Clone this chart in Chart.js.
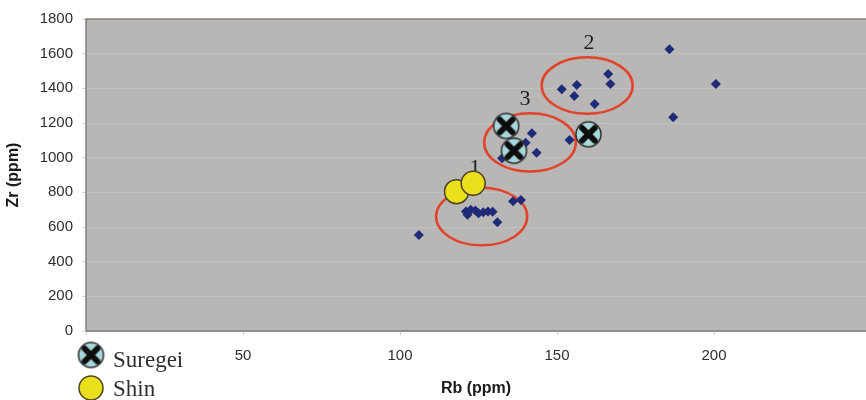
<!DOCTYPE html>
<html>
<head>
<meta charset="utf-8">
<style>
  html, body { margin: 0; padding: 0; background: #fff; overflow: hidden; }
  #wrap { width: 866px; height: 400px; overflow: hidden; }
</style>
<script src="https://cdn.jsdelivr.net/npm/chart.js@4/dist/chart.umd.min.js"></script>
</head>
<body>
<div id="wrap"><canvas id="rbZrChart" width="866" height="400"></canvas></div>
<script>
// samples (Rb, Zr in ppm)
const rbSamples = [106, 121, 121.5, 122.5, 124, 125, 126.5, 128, 129.5, 131, 136, 138.5,
  132.5, 140, 142, 143.5, 154,
  151.5, 155.5, 156.3, 162, 166.3, 167,
  185.8, 187, 200.6];
const zrSamples = [554, 690, 670, 700, 695, 680, 685, 690, 688, 628, 748, 756,
  996, 1086, 1141, 1029, 1102,
  1394, 1356, 1419, 1310, 1483, 1425,
  1625, 1233, 1425];

const rbSuregei = [133.8, 136.3, 160];
const zrSuregei = [1183, 1040, 1135];
const rbShin = [118, 123.3];
const zrShin = [804, 852];

// circled groups: label, centre Rb, centre Zr, half width (Rb), half height (Zr)
const groupLabels = ["1", "2", "3"];
const groupRb = [126, 159.6, 141.4];
const groupZr = [660, 1416, 1088];
const groupHalfRb = [14.5, 14.5, 14.6];
const groupHalfZr = [166, 163, 168];
const groupLabelRb = [123.9, 160.2, 139.8];
const groupLabelZr = [940, 1662, 1338];

const xTicks = [50, 100, 150, 200];

const PAGE_W = 866;
const PAGE_H = 400;

function toPoints(xs, ys) {
  return xs.map((x, i) => ({ x: x, y: ys[i] }));
}

function makeSuregeiIcon(r) {
  const size = r * 2 + 4;
  const c = document.createElement("canvas");
  c.width = size;
  c.height = size;
  const g = c.getContext("2d");
  const m = size / 2;
  g.beginPath();
  g.arc(m, m, r, 0, Math.PI * 2);
  g.fillStyle = "#a8d6da";
  g.fill();
  g.lineWidth = 1.5;
  g.strokeStyle = "#2b2b2b";
  g.stroke();
  g.strokeStyle = "#0d0d0d";
  g.lineWidth = 6;
  g.lineCap = "round";
  const d = r * 0.5;
  g.beginPath();
  g.moveTo(m - d, m - d);
  g.lineTo(m + d, m + d);
  g.moveTo(m + d, m - d);
  g.lineTo(m - d, m + d);
  g.stroke();
  return c;
}

const suregeiIcon = makeSuregeiIcon(12.5);

const plotFrame = {
  id: "plotFrame",
  beforeDraw(chart) {
    const { ctx, chartArea: a } = chart;
    ctx.save();
    ctx.fillStyle = "#b8b7b5";
    ctx.fillRect(a.left, a.top, a.right - a.left, a.bottom - a.top);
    ctx.restore();
  },
  afterDraw(chart) {
    const { ctx, chartArea: a } = chart;
    ctx.save();
    ctx.strokeStyle = "#847d78";
    ctx.lineWidth = 1.5;
    ctx.beginPath();
    ctx.moveTo(a.left, a.bottom);
    ctx.lineTo(a.left, a.top);
    ctx.lineTo(a.right, a.top);
    ctx.moveTo(a.left, a.bottom);
    ctx.lineTo(a.right, a.bottom);
    ctx.stroke();

    // legend at bottom left
    ctx.drawImage(suregeiIcon, 91 - suregeiIcon.width / 2, 355 - suregeiIcon.height / 2);
    ctx.beginPath();
    ctx.arc(91, 388, 12, 0, Math.PI * 2);
    ctx.fillStyle = "#ecdf1c";
    ctx.fill();
    ctx.lineWidth = 1.5;
    ctx.strokeStyle = "#4a4222";
    ctx.stroke();
    ctx.fillStyle = "#2e2e2e";
    ctx.font = "23px 'Liberation Serif', 'DejaVu Serif', serif";
    ctx.textBaseline = "middle";
    ctx.textAlign = "left";
    ctx.fillText("Suregei", 113, 361);
    ctx.fillText("Shin", 113, 390);
    ctx.restore();
  }
};

const groupCircles = {
  id: "groupCircles",
  beforeDatasetsDraw(chart) {
    const { ctx, scales: { x, y } } = chart;
    ctx.save();
    ctx.strokeStyle = "#e2432b";
    ctx.lineWidth = 2.5;
    groupRb.forEach((rb, i) => {
      const cx = x.getPixelForValue(rb);
      const cy = y.getPixelForValue(groupZr[i]);
      const rx = x.getPixelForValue(rb + groupHalfRb[i]) - cx;
      const ry = cy - y.getPixelForValue(groupZr[i] + groupHalfZr[i]);
      ctx.beginPath();
      ctx.ellipse(cx, cy, rx, ry, 0, 0, Math.PI * 2);
      ctx.stroke();
    });
    ctx.fillStyle = "#1e1e1e";
    ctx.font = "22px 'Liberation Serif', 'DejaVu Serif', serif";
    ctx.textAlign = "center";
    ctx.textBaseline = "middle";
    groupLabels.forEach((t, i) => {
      ctx.fillText(t, x.getPixelForValue(groupLabelRb[i]), y.getPixelForValue(groupLabelZr[i]));
    });
    ctx.restore();
  }
};

const chart = new Chart(document.getElementById("rbZrChart"), {
  type: "scatter",
  data: {
    datasets: [
      {
        label: "Suregei",
        data: toPoints(rbSuregei, zrSuregei),
        pointStyle: suregeiIcon,
        pointRadius: 13,
      },
      {
        label: "Shin",
        data: toPoints(rbShin, zrShin),
        pointStyle: "circle",
        pointRadius: 12,
        backgroundColor: "#ecdf1c",
        borderColor: "#4a4222",
        borderWidth: 1.5,
      },
      {
        label: "Samples",
        data: toPoints(rbSamples, zrSamples),
        pointStyle: "rectRot",
        pointRadius: 5,
        backgroundColor: "#1f2a78",
        borderColor: "#1f2a78",
        borderWidth: 0,
      },
    ],
  },
  options: {
    responsive: false,
    maintainAspectRatio: false,
    animation: false,
    layout: { padding: { top: 19, right: 0, left: 0, bottom: 0 } },
    plugins: {
      legend: { display: false },
      tooltip: { enabled: false },
    },
    scales: {
      x: {
        type: "linear",
        min: 0,
        max: 248.4,
        afterFit(scale) {
          scale.height = 69;
          scale.paddingLeft = 0;
          scale.paddingRight = 0;
        },
        afterBuildTicks(scale) {
          scale.ticks = [0].concat(xTicks).map((v) => ({ value: v }));
        },
        ticks: {
          color: "#2e2e2e",
          font: { family: "'Liberation Sans', Arial, sans-serif", size: 15 },
          padding: 12,
          callback: (v) => (v === 0 ? "" : String(v)),
        },
        grid: {
          display: true,
          drawOnChartArea: false,
          drawTicks: true,
          tickLength: 4,
          color: "#cfcfcf",
        },
        border: { display: false },
        title: {
          display: true,
          text: "Rb (ppm)",
          color: "#1a1a1a",
          font: { family: "'Liberation Sans', Arial, sans-serif", size: 16, weight: "bold" },
          padding: { top: 0, bottom: 2 },
        },
      },
      y: {
        type: "linear",
        min: 0,
        max: 1800,
        afterFit(scale) {
          scale.width = 86;
          scale.paddingTop = 0;
          scale.paddingBottom = 0;
        },
        ticks: {
          stepSize: 200,
          color: "#2e2e2e",
          font: { family: "'Liberation Sans', Arial, sans-serif", size: 15 },
          padding: 9,
          callback: (v) => String(v),
        },
        grid: {
          color: "#c2c1bf",
          lineWidth: 1,
          tickLength: 4,
          tickColor: "#d4d4d4",
        },
        border: { display: false },
        title: {
          display: true,
          text: "Zr (ppm)",
          color: "#1a1a1a",
          font: { family: "'Liberation Sans', Arial, sans-serif", size: 16, weight: "bold" },
          padding: { top: 4, bottom: 0 },
        },
      },
    },
  },
  plugins: [plotFrame, groupCircles],
});

// the plot in the reference runs off the right edge of the picture:
// widen the canvas until the plot area reaches the page edge, the wrapper crops the rest
for (let i = 0; i < 3; i++) {
  const gap = Math.round(PAGE_W - chart.chartArea.right);
  if (gap === 0) break;
  chart.resize(chart.width + gap, PAGE_H);
}
</script>
</body>
</html>
